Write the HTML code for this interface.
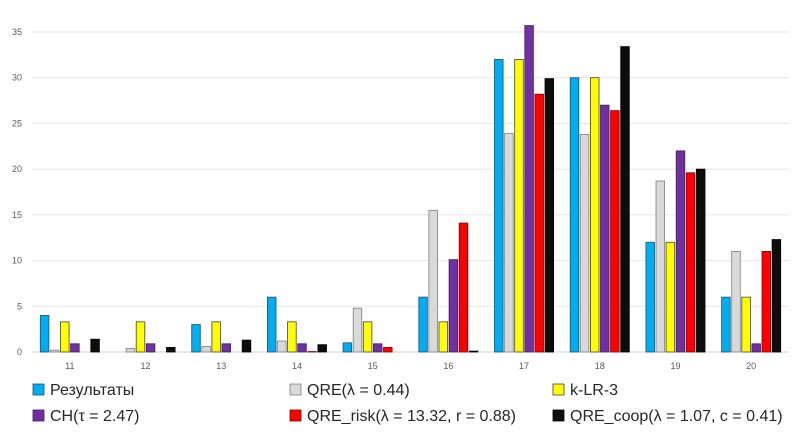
<!DOCTYPE html>
<html><head><meta charset="utf-8"><style>
body{margin:0;background:#fff;font-family:"Liberation Sans",sans-serif}
svg{display:block}
</style></head><body>
<svg id="c" width="804" height="442"></svg>
<script>
const categories=["11","12","13","14","15","16","17","18","19","20"];
const seriesNames=["Результаты","QRE(λ = 0.44)","k-LR-3","CH(τ = 2.47)","QRE_risk(λ = 13.32, r = 0.88)","QRE_coop(λ = 1.07, c = 0.41)"];
const sResults=[4,0,3,6,1,6,32,30,12,6];
const sQRE=[0.2,0.4,0.6,1.2,4.8,15.5,23.9,23.8,18.7,11];
const sKLR=[3.3,3.3,3.3,3.3,3.3,3.3,32,30,12,6];
const sCH=[0.9,0.9,0.9,0.9,0.9,10.1,35.7,27,22,0.9];
const sRisk=[0,0,0,0.05,0.5,14.1,28.2,26.4,19.6,11];
const sCoop=[1.4,0.5,1.3,0.8,0,0.1,29.9,33.4,20,12.3];
const yTicks=[0,5,10,15,20,25,30,35];
const series=[sResults,sQRE,sKLR,sCH,sRisk,sCoop];
const fills=["#00aeef","#d9d9d9","#ffff00","#7030a0","#ff0000","#0d0d0d"];
const strokes=["#1f4e79","#7f7f7f","#404040","#3f1f5f","#7f0000","#000"];
const NS="http://www.w3.org/2000/svg";
const svg=document.getElementById('c');
const x0=32,x1=789,y0=352,yTop=32;
const y=v=>y0-(v/35)*(y0-yTop);
const slot=(x1-x0)/categories.length;
function mk(t,a){const e=document.createElementNS(NS,t);for(const k in a)e.setAttribute(k,a[k]);svg.appendChild(e);return e;}
yTicks.forEach(t=>{
  const l=mk('line',{x1:x0,x2:x1,y1:y(t),y2:y(t),stroke:t===0?'#d0d0d0':'#e6e6e6','stroke-width':1});
  
  
  const tx=mk('text',{x:22,y:y(t)+3,'text-anchor':'end','font-size':9,fill:'#595959'});
  tx.textContent=t;
  
  
});
const bw=8.6,pitch=10.1;
categories.forEach((c,i)=>{
  const cx=x0+slot*(i+0.5);
  const start=cx-3*pitch+0.75;
  series.forEach((s,j)=>{
    const v=s[i];
    if(v<=0)return;
    const r=mk('rect',{x:start+j*pitch,y:y(v),width:bw,height:y0-y(v),fill:fills[j],stroke:strokes[j],'stroke-width':0.8});
    
    
  });
  const t=mk('text',{x:cx,y:369,'text-anchor':'middle','font-size':9,fill:'#595959'});
  t.textContent=c;
  
  
});
const lx=[33,290,553],ly=[390,416];
seriesNames.forEach((n,j)=>{
  const X=lx[j%3],Y=ly[Math.floor(j/3)];
  const r=mk('rect',{x:X,y:Y-6,width:11,height:11,fill:fills[j],stroke:strokes[j],'stroke-width':0.8});
  
  
  const t=mk('text',{x:X+17,y:Y+5,'font-size':16,fill:'#262626'});
  t.textContent=n;
  
  
});
</script>
</body></html>
